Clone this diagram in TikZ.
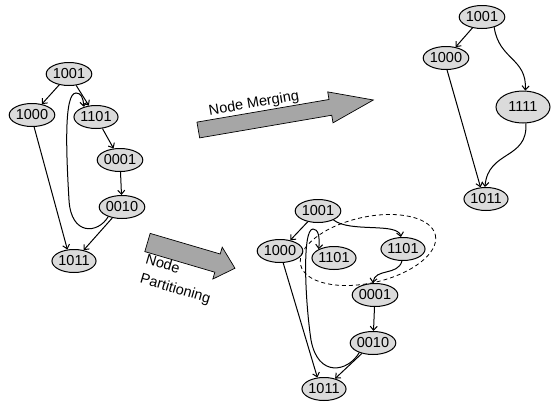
\documentclass[tikz,border=0pt]{standalone}
\usepackage{fontspec}
\setmainfont{Liberation Sans}
\usetikzlibrary{shapes.geometric,arrows.meta}

\definecolor{nodefill}{gray}{0.86}
\definecolor{bigarrow}{gray}{0.65}

\tikzset{
  vtx/.style={ellipse, draw=black, line width=1pt, fill=nodefill,
    minimum width=42pt, minimum height=23pt, inner sep=0pt,
    font=\fontsize{14.5}{14.5}\selectfont},
  bigvtx/.style={vtx, minimum width=54pt, minimum height=32pt},
  edge/.style={line width=1pt, -{Straight Barb[length=4pt,width=7pt]}},
  fatarrow/.style={draw=black, line width=0.7pt, fill=bigarrow},
  caption/.style={font=\fontsize{14.5}{20}\selectfont, inner sep=0pt}
}

\begin{document}
\begin{tikzpicture}[x=1pt, y=-1pt]
\useasboundingbox (0,0) rectangle (552,410);

% ---- original graph ----
\node[vtx] (l1001) at (69,74)    {1001};
\node[vtx] (l1000) at (32,115)   {1000};
\node[vtx] (l1101) at (96,117)   {1101};
\node[vtx] (l0001) at (120,160)  {0001};
\node[vtx] (l0010) at (122,207)  {0010};
\node[vtx] (l1011) at (74,261)   {1011};

\draw[edge] (l1001) -- (l1000);
\draw[edge] (l1001) -- (l1101);
\draw[edge] (l1101) -- (l0001);
\draw[edge] (l0001) -- (l0010);
\draw[edge] (l0010) -- (l1011);
\draw[edge] (l1000.-80) -- (l1011.120);
\draw[edge] (l0010.215) .. controls (98,234) and (71,236) .. (69,200)
  .. controls (66,150) and (64,93) .. (76,93)
  .. controls (81,93) and (83,97) .. (l1101.140);

% ---- merging arrow ----
\begin{scope}[shift={(198.3,130)}, rotate=9.73]
  \draw[fatarrow] (0,-8) -- (134,-8) -- (134,-15.7) -- (177.6,0)
    -- (134,15.7) -- (134,8) -- (0,8) -- cycle;
\end{scope}
\node[caption, rotate=9.7] (mergelbl) at (254,104) {Node Merging};

% ---- partitioning arrow ----
\begin{scope}[shift={(147.5,242.5)}, rotate=-16.4]
  \draw[fatarrow] (0,-9.5) -- (73,-9.5) -- (73,-16.6) -- (91.2,0)
    -- (73,16.6) -- (73,9.5) -- (0,9.5) -- cycle;
\end{scope}
\node[caption, rotate=-16.4, align=left] (partlbl) at (178,280) {Node\\Partitioning};

% ---- merged graph ----
\node[vtx]    (m1001) at (482,17)  {1001};
\node[vtx]    (m1000) at (446,58)  {1000};
\node[bigvtx] (m1111) at (523,107) {1111};
\node[vtx]    (m1011) at (486,199) {1011};

\draw[edge] (m1001) -- (m1000);
\draw[edge] (m1000.-85) -- (m1011.115);
\draw[edge] (m1001.-40) .. controls (499,60) and (527,58) .. (m1111.82);
\draw[edge] (m1111.-80) .. controls (528,160) and (488,150) .. (m1011.95);

% ---- partitioned graph ----
\node[vtx] (p1001)  at (318,211) {1001};
\node[vtx] (p1000)  at (280,251) {1000};
\node[vtx] (p1101a) at (334,258) {1101};
\node[vtx] (p1101b) at (403,249) {1101};
\node[vtx] (p0001)  at (375,295) {0001};
\node[vtx] (p0010)  at (373,343) {0010};
\node[vtx] (p1011)  at (324,389) {1011};

\draw[dash pattern=on 4pt off 3pt, line width=0.8pt]
  (368,250) ellipse [x radius=69, y radius=33, rotate=12.5];

\draw[edge] (p1001) -- (p1000);
\draw[edge] (p1001.-30) .. controls (350,233) and (398,222) .. (p1101b.100);
\draw[edge] (p1101b.-95) .. controls (398,276) and (375,268) .. (p0001.100);
\draw[edge] (p0001) -- (p0010);
\draw[edge] (p0010) -- (p1011);
\draw[edge] (p1000.-75) -- (p1011.120);
\draw[edge] (p0010.215) .. controls (348,372) and (318,378) .. (311,340)
  .. controls (305,300) and (302,229) .. (313,229)
  .. controls (318,229) and (320,236) .. (p1101a.150);
\end{tikzpicture}
\end{document}
